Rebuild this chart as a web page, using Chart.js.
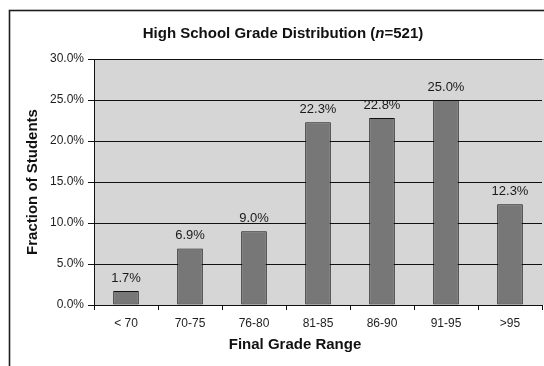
<!DOCTYPE html>
<html>
<head>
<meta charset="utf-8">
<script src="https://cdn.jsdelivr.net/npm/chart.js@4/dist/chart.umd.min.js"></script>
<style>
  html, body { margin: 0; padding: 0; background: #fff; }
  #wrap { width: 544px; height: 366px; position: relative; }
</style>
</head>
<body>
<div id="wrap"><canvas id="c" width="544" height="366"></canvas></div>
<script>
// Grade ranges and share of students in each
const categories = ['< 70', '70-75', '76-80', '81-85', '86-90', '91-95', '>95'];
const fractions = [1.7, 6.9, 9.0, 22.3, 22.8, 25.0, 12.3];
const yTicks = [0, 5, 10, 15, 20, 25, 30];

const FONT = "'Liberation Sans', Arial, Helvetica, sans-serif";

// Frame, plot background, plot border
const backdrop = {
  id: 'backdrop',
  beforeDraw(chart) {
    const { ctx, chartArea: a, width, height } = chart;
    ctx.save();
    ctx.fillStyle = '#fff';
    ctx.fillRect(0, 0, width, height);
    ctx.strokeStyle = '#1e1e1e';
    ctx.lineWidth = 1.6;
    ctx.strokeRect(9.5, 10.5, width + 20, height + 20);
    ctx.fillStyle = '#d6d6d6';
    ctx.fillRect(a.left, a.top, width - a.left, a.bottom - a.top);
    ctx.strokeStyle = '#7a7a7a';
    ctx.lineWidth = 1;
    ctx.beginPath();
    ctx.moveTo(a.left, a.top + 0.5);
    ctx.lineTo(width, a.top + 0.5);
    ctx.stroke();
    ctx.restore();
  }
};

// Titles and value labels
const annotate = {
  id: 'annotate',
  afterDatasetsDraw(chart) {
    const { ctx, chartArea: a } = chart;
    ctx.save();
    ctx.fillStyle = '#111';
    ctx.textBaseline = 'middle';

    // Main title with italic n
    const parts = [
      ['bold', 'High School Grade Distribution ('],
      ['italic bold', 'n'],
      ['bold', '=521)']
    ];
    let total = 0;
    parts.forEach(p => { ctx.font = p[0] + ' 15px ' + FONT; total += ctx.measureText(p[1]).width; });
    let x = 283 - total / 2;
    ctx.textAlign = 'left';
    parts.forEach(p => {
      ctx.font = p[0] + ' 15px ' + FONT;
      ctx.fillText(p[1], x, 34);
      x += ctx.measureText(p[1]).width;
    });

    // Axis titles
    ctx.textAlign = 'center';
    ctx.font = 'bold 15px ' + FONT;
    ctx.fillText('Final Grade Range', 295, 345);
    ctx.save();
    ctx.translate(33, (a.top + a.bottom) / 2);
    ctx.rotate(-Math.PI / 2);
    ctx.fillText('Fraction of Students', 0, 0);
    ctx.restore();

    // Value labels above bars
    ctx.font = '13px ' + FONT;
    ctx.fillStyle = '#1a1a1a';
    ctx.textBaseline = 'alphabetic';
    const meta = chart.getDatasetMeta(0);
    meta.data.forEach((bar, i) => {
      ctx.fillText(fractions[i].toFixed(1) + '%', bar.x, bar.y - 9);
    });
    ctx.restore();
  }
};

new Chart(document.getElementById('c'), {
  type: 'bar',
  data: {
    labels: categories,
    datasets: [{
      data: fractions,
      backgroundColor: '#777777',
      borderColor: '#111111',
      borderWidth: 1,
      borderSkipped: false,
      categoryPercentage: 1,
      barPercentage: 0.4
    }]
  },
  plugins: [backdrop, annotate],
  options: {
    responsive: false,
    animation: false,
    devicePixelRatio: 1,
    layout: { padding: { top: 59, right: 2, bottom: 0, left: 0 } },
    plugins: { legend: { display: false }, tooltip: { enabled: false }, title: { display: false } },
    scales: {
      x: {
        afterFit(s) { s.height = 61; },
        grid: {
          offset: true,
          drawOnChartArea: false,
          drawTicks: true,
          tickLength: 5,
          color: '#111'
        },
        border: { color: '#111', width: 1 },
        ticks: { color: '#1e1e1e', font: { family: FONT, size: 12 }, padding: 6, maxRotation: 0 }
      },
      y: {
        min: 0,
        max: 30,
        afterFit(s) { s.width = 94; },
        afterBuildTicks(s) { s.ticks = yTicks.map(v => ({ value: v })); },
        grid: { color: '#111', lineWidth: 1, tickLength: 6, drawTicks: true },
        border: { color: '#111', width: 1 },
        ticks: {
          color: '#1e1e1e',
          font: { family: FONT, size: 12 },
          padding: 4,
          callback: v => v.toFixed(1) + '%'
        }
      }
    }
  }
});
</script>
</body>
</html>
